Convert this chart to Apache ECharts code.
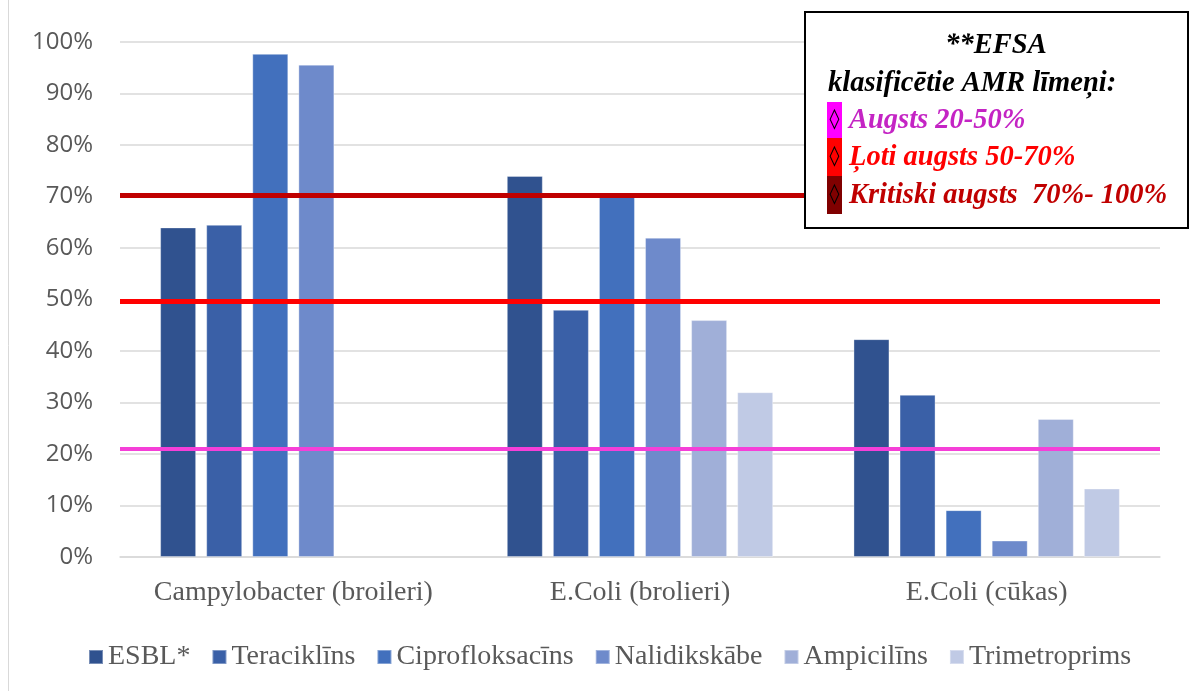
<!DOCTYPE html>
<html><head><meta charset="utf-8">
<script src="https://cdn.jsdelivr.net/npm/echarts@6/dist/echarts.min.js"></script>
<style>html,body{margin:0;padding:0;background:#fff}#c{width:1192px;height:691px}</style>
</head><body><div id="c"></div>
<script>
const categories = ['Campylobacter (broileri)', 'E.Coli (brolieri)', 'E.Coli (cūkas)'];
const seriesNames = ['ESBL*', 'Teraciklīns', 'Ciprofloksacīns', 'Nalidikskābe', 'Ampicilīns', 'Trimetroprims'];
const esbl = [64, 74, 42.3];
const teraciklins = [64.5, 48, 31.5];
const ciprofloksacins = [97.7, 70, 9.1];
const nalidikskabe = [95.6, 62, 3.2];
const ampicilins = [null, 46, 26.8];
const trimetroprims = [null, 32, 13.3];
const yTicks = [0, 10, 20, 30, 40, 50, 60, 70, 80, 90, 100];
const thresholds = [21, 49.6, 70.2];
const boxTitle = ['**EFSA', 'klasificētie AMR līmeņi:'];
const boxItems = ['Augsts 20-50%', 'Ļoti augsts 50-70%', 'Kritiski augsts  70%- 100%'];

const colors = ['#30528F', '#3A60A7', '#4270BD', '#6E8ACB', '#A0AFD8', '#C0CAE5'];
const values = [esbl, teraciklins, ciprofloksacins, nalidikskabe, ampicilins, trimetroprims];
const lineColors = ['#F53FD8', '#FF0000', '#C00000'];
const lineWidths = [4, 5, 5];

const series = values.map((v, i) => ({
  name: seriesNames[i], type: 'bar', data: v,
  barWidth: 36, barGap: '28%',
  itemStyle: { color: colors[i], borderColor: 'rgba(255,255,255,0.35)', borderWidth: 1 }
}));
series.push({
  name: 'thr', type: 'line', data: [], silent: true,
  markLine: {
    silent: true, symbol: 'none', label: { show: false },
    data: thresholds.map((t, i) => ({ yAxis: t, lineStyle: { color: lineColors[i], width: lineWidths[i], type: 'solid' } }))
  }
});

const serif = '"Liberation Serif", "Times New Roman", serif';
const boxX = 805, boxY = 12, boxW = 383, boxH = 216;
const itemColors = ['#FF00FF', '#FF0000', '#800000'];
const itemTextColors = ['#C424C4', '#FF0000', '#C00000'];
const itemTops = [102, 138, 176];
const itemH = [36, 38, 38];
const bf = 'italic bold 28.5px ' + serif;
const graphics = [
  { type: 'line', shape: { x1: 8.5, y1: 0, x2: 8.5, y2: 691 }, style: { stroke: '#D9D9D9', lineWidth: 1 } },
  { type: 'rect', z: 100, shape: { x: boxX, y: boxY, width: boxW, height: boxH }, style: { fill: '#fff', stroke: '#000', lineWidth: 2 } },
  { type: 'text', z: 101, x: 996, y: 46, style: { text: boxTitle[0], font: bf, fill: '#000', align: 'center', verticalAlign: 'middle', shadowBlur: 3, shadowColor: 'rgba(0,0,0,0.35)' } },
  { type: 'text', z: 101, x: 828, y: 84, style: { text: boxTitle[1], font: bf, fill: '#000', align: 'left', verticalAlign: 'middle', shadowBlur: 3, shadowColor: 'rgba(0,0,0,0.35)' } }
];
boxItems.forEach((t, i) => {
  graphics.push({ type: 'rect', z: 101, shape: { x: 827, y: itemTops[i], width: 15, height: itemH[i] }, style: { fill: itemColors[i] } });
  graphics.push({ type: 'text', z: 102, x: 834.5, y: itemTops[i] + itemH[i] / 2, style: { text: '◊', font: '20px "DejaVu Sans", sans-serif', fill: '#000', align: 'center', verticalAlign: 'middle' } });
  graphics.push({ type: 'text', z: 101, x: 849, y: itemTops[i] + itemH[i] / 2 + 1, style: { text: t, font: bf, fill: itemTextColors[i], align: 'left', verticalAlign: 'middle', shadowBlur: 3, shadowColor: 'rgba(0,0,0,0.3)' } });
});

const chart = echarts.init(document.getElementById('c'), null, { renderer: 'canvas' });
chart.setOption({
  animation: false,
  backgroundColor: '#fff',
  grid: { left: 120, right: 32, top: 42, bottom: 134, containLabel: false },
  legend: {
    data: seriesNames, top: 638, left: 83,
    itemWidth: 14, itemHeight: 14, itemGap: 21, icon: 'rect',
    textStyle: { fontFamily: serif, fontSize: 28, color: '#595959' }
  },
  xAxis: {
    type: 'category', data: categories,
    axisLine: { lineStyle: { color: '#D9D9D9', width: 1.5 } },
    axisTick: { show: false },
    axisLabel: { fontFamily: serif, fontSize: 28, color: '#595959', margin: 22, interval: 0 }
  },
  yAxis: {
    type: 'value', min: 0, max: 100, interval: 10,
    axisLine: { show: false }, axisTick: { show: false },
    axisLabel: { fontFamily: '"Open Sans", sans-serif', fontSize: 24, color: '#595959', margin: 27,
      formatter: v => (yTicks.includes(v) ? v + '%' : '') },
    splitLine: { lineStyle: { color: '#D9D9D9', width: 1.5 } }
  },
  series: series,
  graphic: graphics
});
</script></body></html>
